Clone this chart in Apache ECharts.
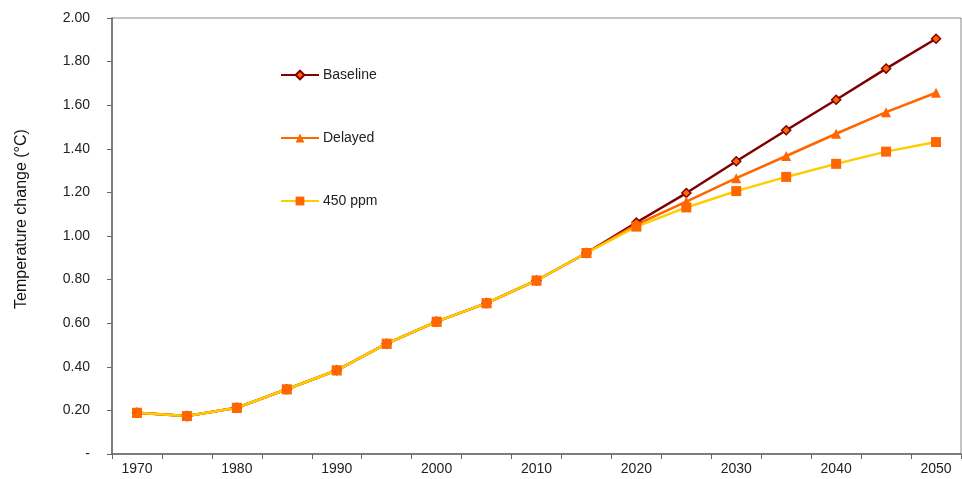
<!DOCTYPE html>
<html><head><meta charset="utf-8">
<script src="https://cdn.jsdelivr.net/npm/echarts@6/dist/echarts.min.js"></script>
<style>html,body{margin:0;padding:0;background:#fff}#c{width:962px;height:479px}</style>
</head><body><div id="c"></div>
<script>
const years = ['1970','1975','1980','1985','1990','1995','2000','2005','2010','2015','2020','2025','2030','2035','2040','2045','2050'];
const baseline = [0.189,0.174,0.212,0.297,0.384,0.506,0.607,0.692,0.796,0.922,1.062,1.197,1.343,1.485,1.625,1.768,1.905];
const delayed  = [0.189,0.174,0.212,0.297,0.384,0.506,0.607,0.692,0.796,0.922,1.052,1.158,1.265,1.367,1.469,1.568,1.657];
const ppm450   = [0.189,0.174,0.212,0.297,0.384,0.506,0.607,0.692,0.796,0.922,1.043,1.131,1.206,1.271,1.331,1.387,1.431];
const seriesNames = ['Baseline','Delayed','450 ppm'];
const yTitle = 'Temperature change (°C)';

const chart = echarts.init(document.getElementById('c'));
const txt = {color:'#222', fontFamily:'Liberation Sans, Arial, sans-serif', fontSize:14};
chart.setOption({
  animation:false,
  grid:{left:112,right:1,top:18,bottom:25,show:true,borderColor:'#8a8a8a',borderWidth:1},
  legend:{
    orient:'vertical', left:280, top:68, padding:0, itemWidth:38, itemHeight:11, itemGap:49,
    textStyle:{...txt, padding:[0,0,0,-1]}, data:seriesNames
  },
  xAxis:{
    type:'category', data:years, boundaryGap:true,
    axisLine:{lineStyle:{color:'#666',width:1.5}},
    axisTick:{show:true,interval:0,length:5,lineStyle:{color:'#666'}},
    axisLabel:{interval:1,margin:8,...txt}
  },
  yAxis:{
    type:'value', min:0, max:2, interval:0.2,
    name:yTitle, nameLocation:'middle', nameGap:82, nameRotate:90,
    nameTextStyle:{color:'#111',fontSize:16,fontWeight:'normal',padding:[0,0,0,34],
      fontFamily:'Liberation Sans Narrow, Arial Narrow, Liberation Sans, sans-serif'},
    splitLine:{show:false},
    axisLine:{show:true,lineStyle:{color:'#666',width:1.5}},
    axisTick:{show:true,length:5,lineStyle:{color:'#666'}},
    axisLabel:{margin:22,...txt,formatter:v=> v===0 ? '-' : v.toFixed(2)}
  },
  series:[
    {name:seriesNames[0],type:'line',data:baseline,symbol:'diamond',symbolSize:9,
     lineStyle:{color:'#800000',width:2.5},
     itemStyle:{color:'#FF6600',borderColor:'#800000',borderWidth:1.5}},
    {name:seriesNames[1],type:'line',data:delayed,symbol:'triangle',symbolSize:10,
     lineStyle:{color:'#FF6600',width:2.5},
     itemStyle:{color:'#FF6600',borderColor:'#FF6600',borderWidth:0}},
    {name:seriesNames[2],type:'line',data:ppm450,symbol:'rect',symbolSize:10,
     lineStyle:{color:'#FFCC00',width:2.5},
     itemStyle:{color:'#FF6600',borderWidth:0}}
  ]
});
</script></body></html>
